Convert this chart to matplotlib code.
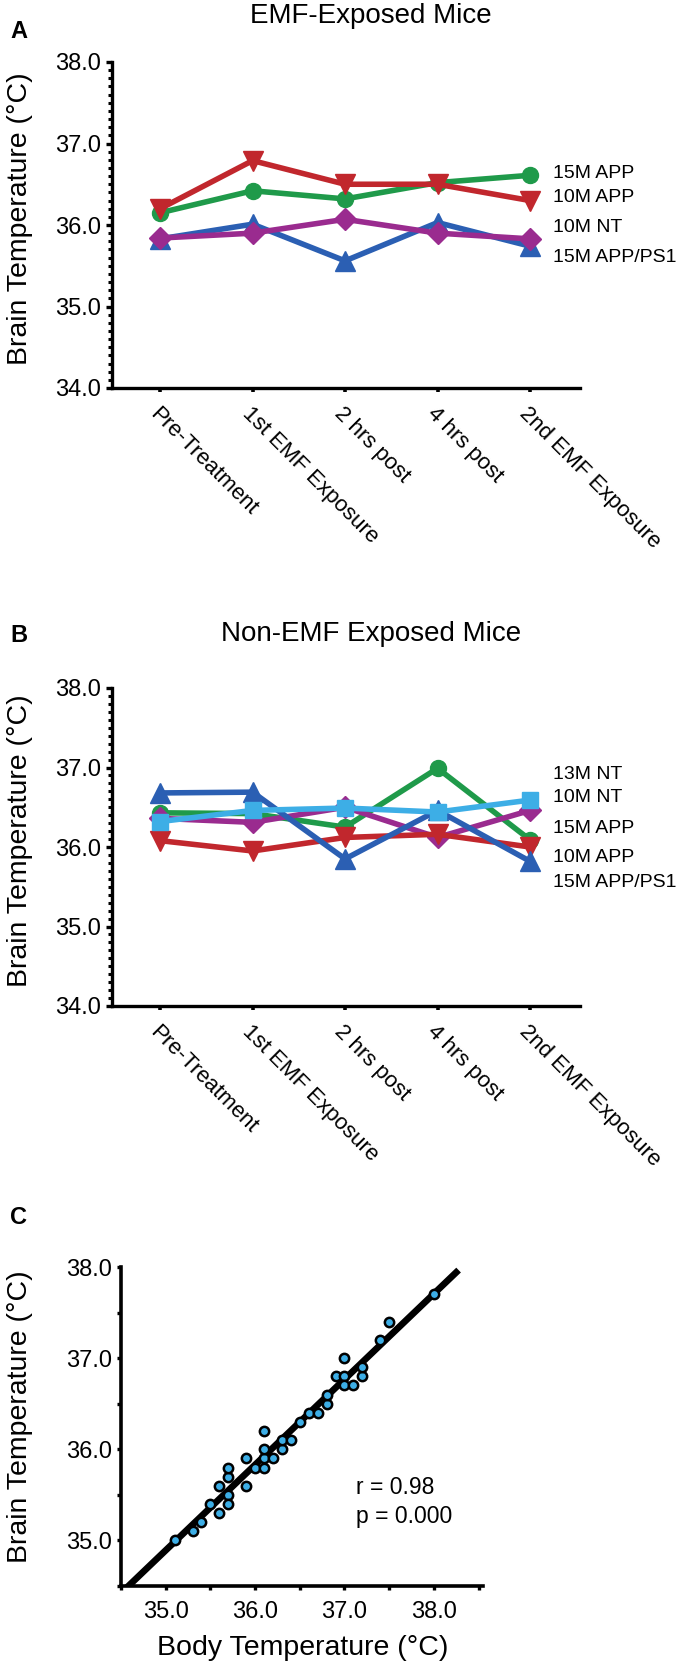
import numpy as np
import matplotlib
matplotlib.use("Agg")
import matplotlib.pyplot as plt
from matplotlib.ticker import MultipleLocator

plt.rcParams['font.family'] = ['Liberation Sans', 'DejaVu Sans']

# time points shared by panels A and B
timepoints = ["Pre-Treatment", "1st EMF Exposure", "2 hrs post", "4 hrs post", "2nd EMF Exposure"]

# panel A - EMF exposed mice (brain temperature, deg C)
a_15m_app = [36.15, 36.42, 36.32, 36.52, 36.61]
a_10m_app = [36.20, 36.79, 36.50, 36.50, 36.30]
a_10m_nt = [35.84, 35.90, 36.07, 35.90, 35.83]
a_15m_app_ps1 = [35.83, 36.01, 35.56, 36.03, 35.74]

# panel B - non-EMF exposed mice
b_13m_nt = [36.32, 36.46, 36.49, 36.44, 36.59]
b_10m_nt = [36.36, 36.31, 36.50, 36.12, 36.46]
b_15m_app = [36.43, 36.42, 36.25, 36.99, 36.09]
b_10m_app = [36.08, 35.95, 36.12, 36.16, 36.00]
b_15m_app_ps1 = [36.68, 36.69, 35.85, 36.46, 35.82]

# panel C - body vs brain temperature
body_temp = [35.1, 35.3, 35.4, 35.5, 35.6, 35.6, 35.7, 35.7, 35.7, 35.7, 35.9, 35.9,
             36.0, 36.1, 36.1, 36.1, 36.1, 36.2, 36.3, 36.3, 36.4, 36.5, 36.6, 36.7,
             36.8, 36.8, 36.9, 37.0, 37.0, 37.0, 37.1, 37.2, 37.2, 37.4, 37.5, 38.0]
brain_temp = [35.0, 35.1, 35.2, 35.4, 35.3, 35.6, 35.5, 35.4, 35.7, 35.8, 35.9, 35.6,
              35.8, 35.8, 35.9, 36.0, 36.2, 35.9, 36.0, 36.1, 36.1, 36.3, 36.4, 36.4,
              36.5, 36.6, 36.8, 36.8, 36.7, 37.0, 36.7, 36.8, 36.9, 37.2, 37.4, 37.7]

GREEN = "#1f9a4a"
RED = "#c1272d"
MAGENTA = "#9a2b8f"
BLUE = "#2b5fb3"
LIGHTBLUE = "#3daee6"

W, H = 683, 1663


def fx(px):
    return px / W


def fy(py):
    return 1 - py / H


fig = plt.figure(figsize=(W / 100, H / 100), dpi=100)


def style_time_axes(ax):
    ax.set_xlim(-0.52, 4.54)
    ax.set_ylim(34, 38)
    ax.spines['top'].set_visible(False)
    ax.spines['right'].set_visible(False)
    ax.spines['left'].set_linewidth(2.4)
    ax.spines['bottom'].set_linewidth(2.4)
    ax.set_yticks([34, 35, 36, 37, 38])
    ax.set_yticklabels(["34.0", "35.0", "36.0", "37.0", "38.0"])
    ax.yaxis.set_minor_locator(MultipleLocator(0.1))
    ax.tick_params(axis='y', which='major', direction='out', length=4, width=2.4,
                   labelsize=17, pad=4)
    ax.tick_params(axis='y', which='minor', direction='out', length=3, width=2.2)
    ax.set_xticks(range(len(timepoints)))
    ax.set_xticklabels(timepoints, rotation=-45, ha='left', va='top',
                       rotation_mode='anchor', fontsize=16)
    ax.tick_params(axis='x', direction='out', length=3, width=2.6, pad=8)
    ax.set_ylabel("Brain Temperature (\u00b0C)", fontsize=20.5, va='center')
    ax.yaxis.set_label_coords((20 - 112) / (580 - 112), 0.52)


def series(ax, values, color, marker, ms):
    ax.plot(range(len(values)), values, color=color, marker=marker, ms=ms, lw=4,
            mec=color, mfc=color, solid_joinstyle='round', clip_on=False)


# ---------- panel A ----------
axA = fig.add_axes([fx(112), fy(388), fx(580) - fx(112), (388 - 62) / H])
series(axA, a_15m_app_ps1, BLUE, '^', 14)
series(axA, a_10m_nt, MAGENTA, 'D', 11)
series(axA, a_15m_app, GREEN, 'o', 11.5)
series(axA, a_10m_app, RED, 'v', 14)
style_time_axes(axA)

fig.text(fx(10), fy(32), "A", fontsize=17, fontweight='bold', va='center')
fig.text(fx(371), fy(16), "EMF-Exposed Mice", fontsize=20, ha='center', va='center')
labels_a = ["15M APP", "10M APP", "10M NT", "15M APP/PS1"]
label_y_a = [173, 198, 228, 258]
for lab, py in zip(labels_a, label_y_a):
    fig.text(fx(553), fy(py), lab, fontsize=14, va='center')

# ---------- panel B ----------
axB = fig.add_axes([fx(112), fy(1006), fx(580) - fx(112), (1006 - 688) / H])
series(axB, b_15m_app, GREEN, 'o', 11.5)
series(axB, b_10m_nt, MAGENTA, 'D', 11)
series(axB, b_10m_app, RED, 'v', 14)
series(axB, b_15m_app_ps1, BLUE, '^', 14)
series(axB, b_13m_nt, LIGHTBLUE, 's', 11)
style_time_axes(axB)

fig.text(fx(10), fy(635), "B", fontsize=17, fontweight='bold', va='center')
fig.text(fx(371), fy(634), "Non-EMF Exposed Mice", fontsize=20, ha='center', va='center')
labels_b = ["13M NT", "10M NT", "15M APP", "10M APP", "15M APP/PS1"]
label_y_b = [775, 798, 828, 857, 883]
for lab, py in zip(labels_b, label_y_b):
    fig.text(fx(553), fy(py), lab, fontsize=14, va='center')

# ---------- panel C ----------
axC = fig.add_axes([fx(121), fy(1586), fx(483) - fx(121), (1586 - 1267) / H])
slope, intercept = np.polyfit(body_temp, brain_temp, 1)
line_x = np.array([34.5, 38.25])
axC.plot(line_x, slope * line_x + intercept, color='black', lw=4.8, zorder=2)
axC.scatter(body_temp, brain_temp, s=45, color=LIGHTBLUE, edgecolors='black',
            linewidths=1.8, zorder=3)
axC.set_xlim(34.5, 38.55)
axC.set_ylim(34.5, 38.0)
axC.spines['top'].set_visible(False)
axC.spines['right'].set_visible(False)
axC.spines['left'].set_linewidth(2.6)
axC.spines['bottom'].set_linewidth(2.6)
axC.set_xticks([35, 36, 37, 38])
axC.set_xticklabels(["35.0", "36.0", "37.0", "38.0"])
axC.set_yticks([35, 36, 37, 38])
axC.set_yticklabels(["35.0", "36.0", "37.0", "38.0"])
axC.xaxis.set_minor_locator(MultipleLocator(0.5))
axC.yaxis.set_minor_locator(MultipleLocator(0.5))
axC.tick_params(which='both', direction='out', length=3, width=2.4, labelsize=17)
axC.tick_params(axis='x', pad=8)
axC.set_xlabel("Body Temperature (\u00b0C)", fontsize=20.5, va='center')
axC.set_ylabel("Brain Temperature (\u00b0C)", fontsize=20.5, va='center')
axC.xaxis.set_label_coords(0.503, (1586 - 1648) / (1586 - 1267))
axC.yaxis.set_label_coords((20 - 121) / (483 - 121), 0.53)
axC.text(fx(356), fy(1487), "r = 0.98", transform=fig.transFigure, fontsize=16.5, va='center')
axC.text(fx(356), fy(1516), "p = 0.000", transform=fig.transFigure, fontsize=16.5, va='center')

fig.text(fx(10), fy(1217), "C", fontsize=17, fontweight='bold', va='center')

fig.savefig("out.png", dpi=100)
